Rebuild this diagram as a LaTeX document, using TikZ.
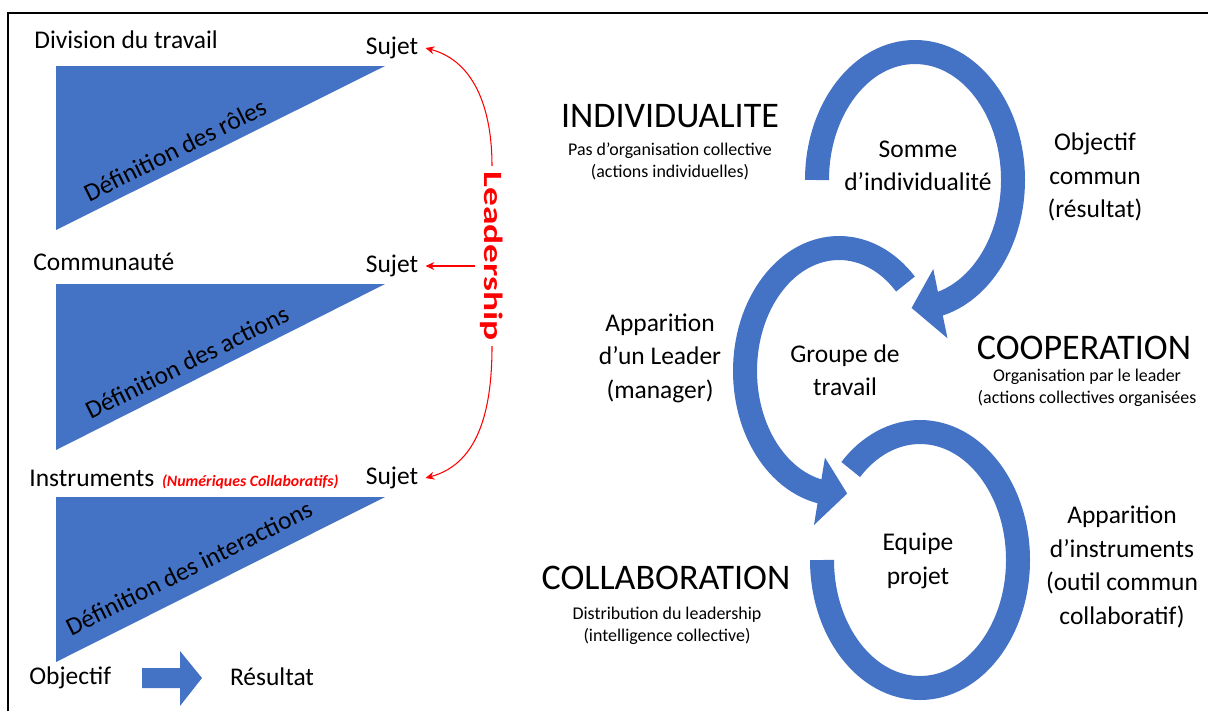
\documentclass[tikz,border=0pt]{standalone}
\usepackage{fontspec}
\setmainfont{Carlito}
\newfontfamily\leadfont[FakeStretch=1.42]{Carlito}
\usepackage{tikz}
\usetikzlibrary{arrows.meta, positioning, calc}
\definecolor{ringblue}{HTML}{4472C4}
\definecolor{ldrred}{HTML}{FF0000}

\begin{document}
\begin{tikzpicture}[
    lbl/.style={inner sep=0pt, align=center, font=\fontsize{14.5}{19}\selectfont},
    ttl/.style={inner sep=0pt, font=\fontsize{20.5}{24}\selectfont},
    sub/.style={inner sep=0pt, align=center, font=\fontsize{10.2}{12.5}\selectfont},
    sujet/.style={lbl, inner sep=4pt},
    deflbl/.style={lbl, rotate=26.5},
    tri/.style={fill=ringblue},
    ring/.style={draw=ringblue, line width=0.48cm},
    ldr/.style={-{Stealth[length=5pt, width=4.5pt]}, ldrred, line width=0.6pt}
]
\useasboundingbox (0,0) rectangle (24.16,-14.22);

% -- frame --
\draw[line width=1.4pt] (0.16,-14.22) -- (0.16,-0.26) -- (24.16,-0.26);

% -- LEFT: three levels --
\fill[tri] (1.12,-1.32) -- (7.7,-1.32) -- (1.12,-4.6) -- cycle;
\fill[tri] (1.12,-5.68) -- (7.7,-5.68) -- (1.12,-9.0) -- cycle;
\fill[tri] (1.12,-9.94) -- (7.7,-9.94) -- (1.12,-13.24) -- cycle;

\node[lbl, anchor=west] (divt) at (0.68,-0.8) {Division du travail};
\node[lbl, anchor=west] (comm) at (0.66,-5.24) {Communauté};
\node[lbl, anchor=west] (instr) at (0.58,-9.56) {Instruments};
\node[anchor=base west, inner sep=0pt, text=ldrred, font=\fontsize{9}{11}\selectfont\bfseries\itshape] (numc) at ([xshift=4pt]instr.base east) {(Numériques Collaboratifs)};

\node[sujet] (sujA) at (7.84,-0.96) {Sujet};
\node[sujet] (sujB) at (7.84,-5.32) {Sujet};
\node[sujet] (sujC) at (7.84,-9.56) {Sujet};

\node[deflbl] (rolA) at (3.5,-3.0) {Définition des rôles};
\node[deflbl] (actB) at (3.74,-7.24) {Définition des actions};
\node[deflbl] (intC) at (3.78,-11.36) {Définition des interactions};

\node[lbl, anchor=west] (obj) at (0.58,-13.56) {Objectif};
\node[lbl] (res) at (5.44,-13.54) {Résultat};
\fill[ringblue] (2.84,-13.36) -- (3.6,-13.36) -- (3.6,-13.02) -- (4.04,-13.56)
    -- (3.6,-14.12) -- (3.6,-13.76) -- (2.84,-13.76) -- cycle;

% leadership
\node[rotate=-90, text=ldrred, inner sep=3pt, font={\leadfont\fontsize{15}{17}\selectfont\bfseries}] (lead) at (9.84,-5.12) {Leadership};
\draw[ldr] (lead.west) to[out=90, in=-15] (sujA.east);
\draw[ldr] (lead.south |- sujB.east) -- (sujB.east);
\draw[ldr] (lead.east) to[out=-90, in=15] (sujC.east);

% -- RIGHT: three rings --
\begin{scope}[shift={(18.3,-3.6)}, xscale=1.96, yscale=2.56]
  \draw[ring] (180:1) arc[start angle=180, end angle=-77, radius=1];
  \fill[ringblue] (-75:1.28) -- (-75:0.72) -- (-92:1) -- cycle;
\end{scope}
\begin{scope}[shift={(16.78,-7.42)}, xscale=1.88, yscale=2.46]
  \draw[ring] (45:1) arc[start angle=45, end angle=260, radius=1];
  \fill[ringblue] (258:1.28) -- (258:0.72) -- (275:1) -- cycle;
\end{scope}
\begin{scope}[shift={(18.4,-11.2)}, xscale=1.96, yscale=2.56]
  \draw[ring] (180:1) arc[start angle=180, end angle=495, radius=1];
\end{scope}

\node[lbl] (somme) at (18.36,-3.32) {Somme\\d’individualité};
\node[lbl] (grp) at (16.9,-7.4) {Groupe de\\travail};
\node[lbl] (equ) at (18.36,-11.22) {Equipe\\projet};

\node[lbl] (objc) at (21.9,-3.54) {Objectif\\commun\\(résultat)};
\node[lbl] (appL) at (13.2,-7.16) {Apparition\\d’un Leader\\(manager)};
\node[lbl] (appI) at (22.44,-11.34) {Apparition\\d’instruments\\(outil commun\\collaboratif)};

% stages
\node[ttl] (indiv) at (13.4,-2.32) {INDIVIDUALITE};
\node[sub] (indivs) at (13.4,-3.22) {Pas d’organisation collective\\(actions individuelles)};
\node[ttl] (coop) at (21.68,-6.96) {COOPERATION};
\node[sub] (coops) at (21.74,-7.76) {Organisation par le leader\\(actions collectives organisées};
\node[ttl] (collab) at (13.32,-11.56) {COLLABORATION};
\node[sub] (collabs) at (13.34,-12.52) {Distribution du leadership\\(intelligence collective)};

\end{tikzpicture}
\end{document}
